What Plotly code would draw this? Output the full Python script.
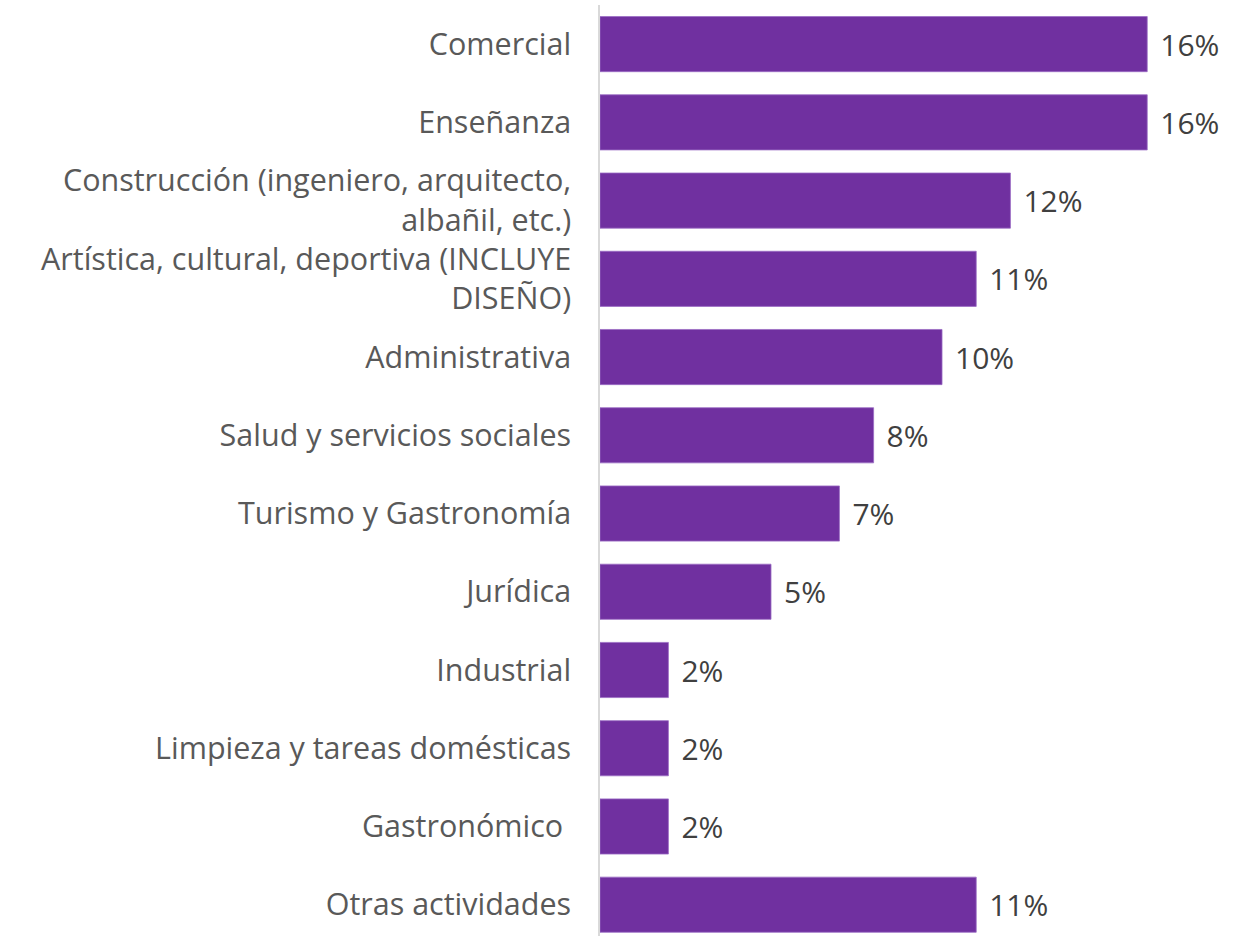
import plotly.graph_objects as go

categories = [
    "Comercial",
    "Enseñanza",
    "Construcción (ingeniero, arquitecto,<br>albañil, etc.)",
    "Artística, cultural, deportiva (INCLUYE<br>DISEÑO)",
    "Administrativa",
    "Salud y servicios sociales",
    "Turismo y Gastronomía",
    "Jurídica",
    "Industrial",
    "Limpieza y tareas domésticas",
    "Gastronómico\u00a0",
    "Otras actividades",
]
values = [16, 16, 12, 11, 10, 8, 7, 5, 2, 2, 2, 11]
labels = ["\u2004" + f"{v}%" for v in values]

FONT = "Open Sans"

fig = go.Figure(go.Bar(
    x=values,
    y=categories,
    orientation="h",
    marker=dict(color="#7030A0", line=dict(color="#9a6cc4", width=0.8)),
    text=labels,
    textposition="outside",
    textfont=dict(family=FONT, size=30, color="#404040"),
    cliponaxis=False,
    hoverinfo="skip",
))

fig.update_layout(
    width=1243,
    height=936,
    margin=dict(l=600, r=0, t=5, b=0, autoexpand=False),
    paper_bgcolor="white",
    plot_bgcolor="white",
    bargap=0.295,
    showlegend=False,
    font=dict(family=FONT),
)
fig.update_xaxes(
    range=[0, 18.8],
    showgrid=False,
    zeroline=False,
    showticklabels=False,
    showline=False,
    automargin=False,
)
fig.update_yaxes(
    range=[11.4, -0.5],
    showgrid=False,
    zeroline=False,
    showline=True,
    linecolor="#d9d9d9",
    linewidth=1.5,
    ticks="",
    ticklabelstandoff=21,
    automargin=False,
    tickfont=dict(family=FONT, size=30.5, color="#595959"),
)

fig.write_html(
    "out.html",
    config={"displayModeBar": False},
    post_script="document.body.style.margin='0';document.body.style.overflow='hidden';",
)
